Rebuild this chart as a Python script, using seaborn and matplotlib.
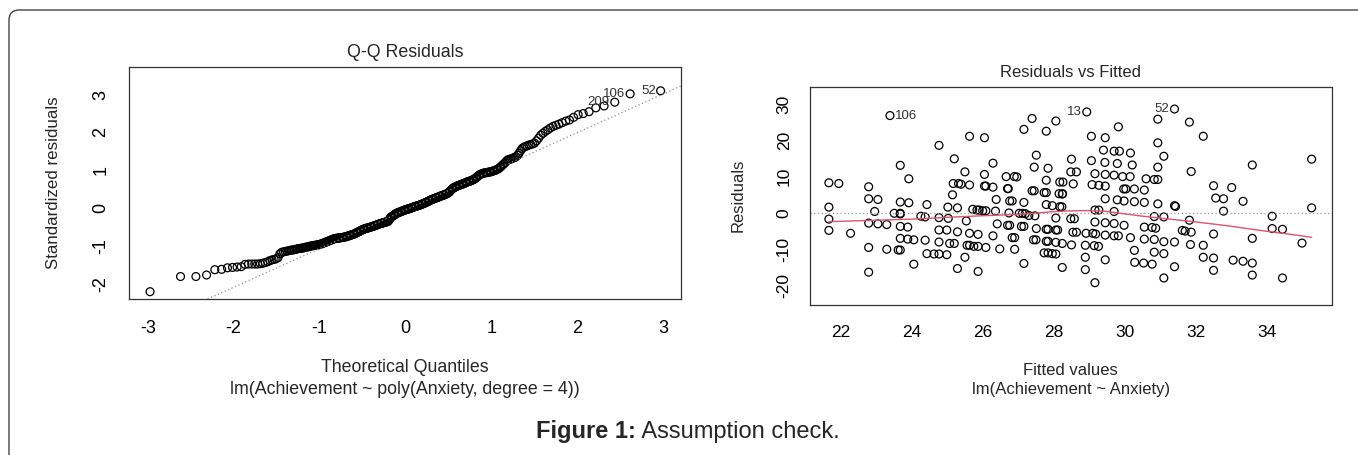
import statistics
import numpy as np
import pandas as pd
import seaborn as sns
import matplotlib.pyplot as plt
from matplotlib.patches import FancyBboxPatch

# --- Data ---
# Q-Q panel: sorted standardized residuals of lm(Achievement ~ poly(Anxiety, degree = 4))
std_resid = [
    -2.20, -1.80, -1.80, -1.76, -1.62, -1.61, -1.57, -1.56,
    -1.55, -1.54, -1.48, -1.47, -1.47, -1.47, -1.47, -1.46, -1.45, -1.43, -1.41, -1.38, -1.36, -1.35, -1.33,
    -1.30, -1.20, -1.16, -1.15, -1.14, -1.13, -1.12, -1.11, -1.10, -1.10, -1.09, -1.08, -1.07, -1.06, -1.06,
    -1.05, -1.05, -1.04, -1.03, -1.02, -1.02, -1.01, -1.00, -0.99, -0.99, -0.98, -0.98, -0.97, -0.97, -0.96, -0.96,
    -0.95, -0.94, -0.93, -0.92, -0.91, -0.90, -0.89, -0.88,
    -0.87, -0.86, -0.85, -0.84, -0.83, -0.82, -0.81, -0.80, -0.80, -0.79,
    -0.79, -0.79, -0.78, -0.78, -0.78, -0.77, -0.77, -0.77, -0.76, -0.76,
    -0.75, -0.75, -0.74, -0.73, -0.73, -0.72, -0.71, -0.71, -0.70, -0.69, -0.69, -0.68,
    -0.67, -0.66, -0.65, -0.64, -0.63, -0.62, -0.61, -0.60, -0.59, -0.58, -0.57,
    -0.56, -0.55, -0.55, -0.54, -0.53, -0.53, -0.52, -0.52, -0.51, -0.51, -0.50, -0.50, -0.49,
    -0.48, -0.48, -0.47, -0.47, -0.46, -0.45, -0.45, -0.44, -0.43, -0.43, -0.42, -0.41,
    -0.41, -0.40, -0.40, -0.39, -0.39, -0.38, -0.38, -0.37, -0.37, -0.36, -0.36, -0.35, -0.35,
    -0.33, -0.31, -0.28, -0.25, -0.23, -0.22, -0.21, -0.20, -0.19, -0.18, -0.16, -0.15, -0.14, -0.13,
    -0.12, -0.12, -0.11, -0.10, -0.10, -0.09, -0.08, -0.08, -0.07, -0.06, -0.06, -0.05, -0.04,
    -0.04, -0.03, -0.03, -0.02, -0.02, -0.01, -0.01, 0.00, 0.00, 0.01, 0.02, 0.02, 0.03, 0.04,
    0.04, 0.05, 0.05, 0.06, 0.06, 0.07, 0.07, 0.08, 0.08, 0.09, 0.10, 0.10, 0.11,
    0.12, 0.13, 0.13, 0.14, 0.15, 0.16, 0.16, 0.17, 0.18, 0.19, 0.20, 0.21, 0.22,
    0.23, 0.23, 0.24, 0.25, 0.25, 0.26, 0.27, 0.27, 0.28, 0.29, 0.29, 0.30, 0.31,
    0.32, 0.32, 0.33, 0.34, 0.34, 0.35, 0.36, 0.36, 0.37, 0.38, 0.39, 0.40, 0.41,
    0.43, 0.45, 0.47, 0.49, 0.51, 0.53, 0.54, 0.55, 0.56, 0.57, 0.58, 0.59,
    0.60, 0.61, 0.61, 0.62, 0.63, 0.64, 0.64, 0.65, 0.66, 0.67, 0.68,
    0.69, 0.70, 0.71, 0.71, 0.72, 0.73, 0.74, 0.75, 0.76, 0.77,
    0.79, 0.81, 0.83, 0.85, 0.87, 0.89, 0.90, 0.91, 0.92,
    0.93, 0.93, 0.94, 0.94, 0.95, 0.95, 0.96, 0.96, 0.97,
    0.98, 0.99, 1.00, 1.01, 1.03, 1.04, 1.06,
    1.09, 1.12, 1.15, 1.18, 1.21, 1.25, 1.28,
    1.29, 1.30, 1.31, 1.33, 1.34, 1.36,
    1.40, 1.45, 1.52, 1.58, 1.61, 1.63,
    1.65, 1.67, 1.68, 1.70, 1.72,
    1.78, 1.85, 1.93, 1.98,
    2.03, 2.07, 2.12, 2.16,
    2.19, 2.22, 2.26,
    2.30, 2.33, 2.40, 2.47,
    2.50, 2.55, 2.65, 2.70, 2.80, 3.02, 3.10,
]
qq_names = ["52", "106", "209"]  # three largest |residuals|, largest first

# Residuals vs Fitted panel: lm(Achievement ~ Anxiety)
fitted = [
    21.67, 21.67, 21.67, 21.67, 21.95, 22.28,
    22.79, 22.79, 22.79, 22.79, 22.79, 22.96, 23.05, 23.05,
    23.30, 23.30, 23.39, 23.51, 23.62,
    23.68, 23.68, 23.68, 23.68, 23.68, 23.68, 23.68,
    23.89, 23.89, 23.92, 23.92, 24.06, 24.06, 24.26,
    24.38, 24.38, 24.43, 24.43, 24.63,
    24.77, 24.77, 24.77, 24.77, 24.77, 24.99, 24.99,
    25.02, 25.03, 25.07, 25.15, 25.17, 25.20, 25.20,
    25.29, 25.29, 25.29, 25.32, 25.39,
    25.50, 25.50, 25.54, 25.56, 25.63, 25.63, 25.63, 25.63,
    25.72, 25.75, 25.84, 25.87, 25.87, 25.87, 25.90,
    26.00, 26.05, 26.05, 26.05, 26.09, 26.09, 26.09,
    26.29, 26.29, 26.29, 26.36, 26.38, 26.41, 26.48,
    26.66, 26.70, 26.70, 26.72, 26.74, 26.76, 26.76, 26.83, 26.83,
    26.89, 26.90, 26.90, 26.96, 27.03, 27.09, 27.12,
    27.16, 27.16, 27.16, 27.16, 27.20, 27.30,
    27.39, 27.39, 27.43, 27.45, 27.45, 27.47, 27.50, 27.51, 27.51,
    27.73, 27.73, 27.79, 27.79, 27.79, 27.79, 27.79, 27.79,
    27.84, 27.84, 27.84, 27.84, 27.96, 27.96,
    28.06, 28.06, 28.06, 28.06, 28.06, 28.11, 28.15,
    28.17, 28.17, 28.23, 28.24, 28.24, 28.24, 28.25, 28.26,
    28.48, 28.48, 28.50, 28.50, 28.54, 28.55, 28.58, 28.64, 28.64,
    28.89, 28.89, 28.89, 28.91, 28.93,
    29.06, 29.06, 29.08, 29.10, 29.14, 29.16, 29.16, 29.16, 29.16, 29.18,
    29.26, 29.27, 29.27, 29.40, 29.44,
    29.45, 29.45, 29.45, 29.45, 29.45, 29.45, 29.45,
    29.70, 29.70, 29.70, 29.70, 29.70, 29.79, 29.79, 29.82, 29.82, 29.85,
    29.94, 29.97, 29.98, 29.98, 30.03, 30.15, 30.16, 30.16, 30.21,
    30.27, 30.27, 30.27, 30.28, 30.53, 30.55, 30.55, 30.55, 30.55, 30.60,
    30.77, 30.77, 30.83, 30.83, 30.83, 30.83, 30.87,
    30.93, 30.93, 30.93, 30.93, 30.93, 31.10, 31.10, 31.10, 31.10, 31.10,
    31.40, 31.40, 31.40, 31.40, 31.43, 31.62, 31.70,
    31.82, 31.82, 31.85, 31.87, 31.87,
    32.21, 32.21, 32.21, 32.50, 32.50, 32.50, 32.50, 32.56,
    32.78, 32.78, 33.01, 33.05, 33.33, 33.33,
    33.59, 33.59, 33.59, 33.59, 34.15, 34.15, 34.44, 34.44, 34.99, 35.26, 35.26,
]
resid = [
    8.3, 1.6, -1.7, -4.8, 8.1, -5.6,
    7.2, 3.9, -2.8, -9.5, -16.3, 0.4, 3.7, -3.0,
    -3.2, -10.0, 26.8, -0.1, -10.2,
    13.1, 3.0, -0.1, -0.3, -3.7, -7.0, -10.2,
    -3.9, -7.2, 2.8, 9.4, -7.4, -14.1, -0.9,
    -1.1, -7.5, 2.3, -11.2, -11.3,
    18.6, -1.3, -4.7, -8.0, -11.3, -4.7, -11.5,
    1.6, -1.5, -8.4, 5.0, 8.1, 14.9, -8.4,
    1.4, -5.2, -15.3, 8.1, 7.9,
    11.3, -12.2, -2.2, -8.9, 21.1, 7.7, -5.6, -8.9,
    1.0, -9.2, 0.8, -5.9, -9.2, -16.1, 0.8,
    0.6, 20.7, 10.6, 7.4, 7.4, 0.6, -9.5,
    13.7, 7.1, -6.3, 0.5, 3.7, -3.0, -9.9,
    10.0, 6.7, -3.4, 6.7, 0.0, 3.3, -3.4, 3.3, -6.8,
    10.0, -6.8, -10.0, 9.9, -0.1, -3.7, -0.1,
    23.0, 2.9, -3.7, -13.9, -0.2, -0.7,
    26.0, 6.1, -7.4, 12.6, 6.1, -0.8, -7.4, 15.9, -4.3,
    5.6, -11.0, 22.5, 9.0, 5.6, 2.3, -4.5, -7.8,
    12.3, -4.5, -7.8, -11.0, 2.0, -11.2,
    25.3, -1.4, -4.7, -8.1, -11.3, -4.7, 5.3,
    8.5, 1.7, 1.7, 5.2, -8.4, -15.0, 5.3, 8.5,
    11.3, -1.6, 14.8, -8.8, -5.3, 8.0, -1.6, 11.3, -5.3,
    -8.9, -12.2, -15.6, -5.6, 27.8,
    21.1, 14.4, 7.8, -5.6, -9.0, 10.8, 0.8, -2.5, -19.2, -5.8,
    -9.2, 7.6, 0.8, 17.3, 13.9,
    20.7, 10.6, 7.4, 3.9, -2.7, -6.1, -12.9,
    17.0, 10.4, 0.4, -2.9, -6.3, 13.6, 3.6, 23.7, -6.3, 17.0,
    10.0, 6.6, 3.3, -3.4, 6.6, 10.0, 16.5, -6.8, 13.2,
    6.6, 3.1, -10.3, -13.6, -13.8, 6.3, 2.9, -3.9, -7.2, 9.4,
    -4.0, -14.1, 9.2, -1.0, -7.3, -10.8, -4.2,
    25.8, 19.3, 12.6, 9.2, 2.5, 15.6, -1.1, -7.9, -11.2, -17.9,
    28.6, 2.0, -8.0, -14.8, 1.8, -4.8, -5.0,
    25.0, -2.0, -8.7, 11.4, -5.3,
    21.1, -8.9, -12.2, 7.5, -5.8, -12.4, -15.8, 4.1,
    3.9, 0.5, 7.0, -13.0, 3.2, -13.3,
    13.2, -7.0, -13.8, -17.1, -0.9, -4.3, -4.5, -17.9, -8.3, 14.8, 1.4,
]
rvf_names = ["52", "13", "106"]  # three largest |residuals|, largest first

# lowess smoother as drawn in the reference
smooth_x = [21.67, 23.0, 24.04, 25.0, 25.92, 26.7, 27.33, 27.9, 28.4, 28.9, 29.4,
            29.8, 30.5, 31.27, 31.93, 32.87, 33.81, 34.75, 35.26]
smooth_y = [-2.4, -2.0, -1.7, -1.2, -0.8, -0.5, -0.2, 0.3, 0.55, 0.65, 0.5,
            0.0, -0.9, -1.7, -2.4, -3.5, -4.8, -6.0, -6.7]

assert len(fitted) == len(resid)

# --- Derived Q-Q quantities ---
n = len(std_resid)
nd = statistics.NormalDist()
theo = [nd.inv_cdf((i - 0.5) / n) for i in range(1, n + 1)]
qq = pd.DataFrame({"theo": theo, "sample": std_resid})
rvf = pd.DataFrame({"fitted": fitted, "resid": resid})

# --- Style ---
sns.set_theme(style="white")
plt.rcParams["font.family"] = ["Liberation Sans", "DejaVu Sans"]
plt.rcParams["axes.unicode_minus"] = False
W, H = 1358, 455
fig = plt.figure(figsize=(W / 100, H / 100), dpi=100)

EDGE = "#333333"


def px_axes(x0, y0, x1, y1):
    return fig.add_axes([x0 / W, 1 - y1 / H, (x1 - x0) / W, (y1 - y0) / H])


def style_axes(ax, size, ylab_pad):
    for s in ax.spines.values():
        s.set_color(EDGE)
        s.set_linewidth(0.9)
    ax.tick_params(axis="both", direction="out", length=8, width=0.8,
                   color=EDGE, labelsize=size, labelcolor="black")
    ax.tick_params(axis="x", pad=7)
    ax.tick_params(axis="y", pad=ylab_pad)
    for lab in ax.get_yticklabels():
        lab.set_rotation(90)
        lab.set_va("center")


# --- Left: Q-Q Residuals ---
T1 = 12.8
ax1 = px_axes(129, 66.7, 680.8, 299)
sns.scatterplot(data=qq, x="theo", y="sample", ax=ax1, marker="o", s=32,
                fc="none", ec="black", linewidth=0.9, legend=False)
q1, q3 = np.quantile(std_resid, [0.25, 0.75])
t1, t3 = nd.inv_cdf(0.25), nd.inv_cdf(0.75)
slope = (q3 - q1) / (t3 - t1)
ax1.axline((0, q1 - slope * t1), slope=slope, color="#8f8f8f", ls=(0, (1, 2)), lw=0.9)
ax1.set_xlim(-3.219, 3.209)
ax1.set_ylim(-2.393, 3.736)
ax1.set_xticks(range(-3, 4))
ax1.set_yticks(range(-2, 4))
style_axes(ax1, 13, 6)
order = np.argsort(-np.abs(qq["sample"].values))
for name, idx in zip(qq_names, order[:3]):
    ax1.annotate(name, (qq["theo"][idx], qq["sample"][idx]), xytext=(-3.5, 0),
                 textcoords="offset points", ha="right", va="center",
                 fontsize=9.5, color="#333333")
ax1.set_xlabel("")
ax1.set_ylabel("")
ax1.text(0.5, 1.0603, "Q-Q Residuals", transform=ax1.transAxes, ha="center",
         va="center", fontsize=T1)
ax1.text(0.5, -0.2957, "Theoretical Quantiles", transform=ax1.transAxes,
         ha="center", va="center", fontsize=T1)
ax1.text(0.5, -0.3887, "lm(Achievement ~ poly(Anxiety, degree = 4))",
         transform=ax1.transAxes, ha="center", va="center", fontsize=T1)
ax1.text(-0.1366, 0.5, "Standardized residuals", transform=ax1.transAxes,
         ha="center", va="center", rotation=90, fontsize=12.2)

# --- Right: Residuals vs Fitted ---
T2 = 12
ax2 = px_axes(809.7, 86.5, 1331.5, 304.5)
ax2.axhline(0, color="#9a9a9a", ls=(0, (1, 2)), lw=0.9)
sns.scatterplot(data=rvf, x="fitted", y="resid", ax=ax2, marker="o", s=32,
                fc="none", ec="black", linewidth=0.9, legend=False)
sns.lineplot(x=smooth_x, y=smooth_y, ax=ax2, color="#DF536B", lw=1,
             sort=False, estimator=None)
ax2.set_xlim(21.13, 35.82)
ax2.set_ylim(-25.2, 34.8)
ax2.set_xticks(range(22, 35, 2))
ax2.set_yticks(range(-20, 31, 10))
style_axes(ax2, 12.5, 5)
order = np.argsort(-np.abs(rvf["resid"].values))
xmid = np.mean(ax2.get_xlim())
for name, idx in zip(rvf_names, order[:3]):
    x, y = rvf["fitted"][idx], rvf["resid"][idx]
    left = x > xmid
    ax2.annotate(name, (x, y), xytext=(-3.5 if left else 3.5, 0),
                 textcoords="offset points", ha="right" if left else "left",
                 va="center", fontsize=9.5, color="#333333")
ax2.set_xlabel("")
ax2.set_ylabel("")
ax2.text(0.5, 1.0644, "Residuals vs Fitted", transform=ax2.transAxes,
         ha="center", va="center", fontsize=T2)
ax2.text(0.5, -0.3037, "Fitted values", transform=ax2.transAxes,
         ha="center", va="center", fontsize=T2)
ax2.text(0.5, -0.388, "lm(Achievement ~ Anxiety)", transform=ax2.transAxes,
         ha="center", va="center", fontsize=T2)
ax2.text(-0.1374, 0.5016, "Residuals", transform=ax2.transAxes,
         ha="center", va="center", rotation=90, fontsize=T2)

# --- Frame and caption ---
frame = FancyBboxPatch((0.09, -0.5), 14.0, (H - 10) / 100 + 0.5,
                       boxstyle="round,pad=0,rounding_size=0.1",
                       transform=fig.dpi_scale_trans, fc="none",
                       ec="#444444", lw=1.0, clip_on=False)
fig.patches.append(frame)

fig.canvas.draw()
r = fig.canvas.get_renderer()
cap_y = 1 - 438 / H
c1 = fig.text(536 / W, cap_y, "Figure 1:", fontsize=17, fontweight="bold",
              ha="left", va="baseline")
bb = c1.get_window_extent(r)
fig.text(bb.x1 / W, cap_y, " Assumption check.", fontsize=17,
         ha="left", va="baseline")

fig.savefig("out.png", dpi=100)
plt.close(fig)
